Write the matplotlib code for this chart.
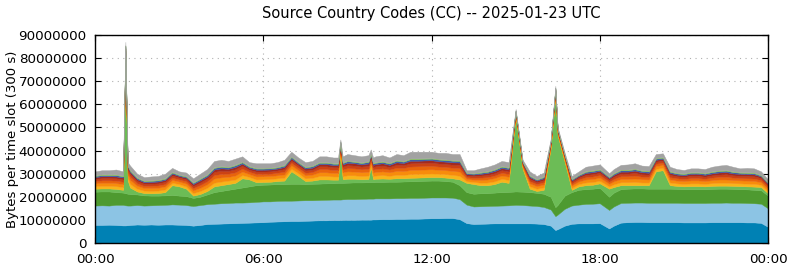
import matplotlib
matplotlib.use("Agg")
import matplotlib.pyplot as plt
from matplotlib.ticker import FuncFormatter
import numpy as np

# time of each sample (minutes after 00:00 UTC)
minutes = [0, 15, 30, 45, 60, 65, 70, 75, 90, 105,
           120, 135, 150, 165, 180, 195, 210, 225, 240, 255,
           270, 285, 300, 315, 330, 345, 360, 375, 390, 405,
           420, 435, 450, 465, 480, 495, 510, 520, 525, 530,
           540, 555, 570, 585, 590, 595, 600, 615, 630, 645,
           660, 675, 690, 705, 720, 735, 750, 765, 780, 795,
           810, 825, 840, 855, 870, 885, 900, 915, 930, 945,
           960, 975, 985, 990, 1005, 1020, 1035, 1050, 1065, 1080,
           1100, 1110, 1125, 1140, 1155, 1170, 1185, 1200, 1215, 1230,
           1245, 1260, 1275, 1290, 1305, 1320, 1335, 1350, 1365, 1380,
           1395, 1410, 1425, 1440]

# layer values in millions of bytes per 300 s slot (bottom to top)
cc1 = [7.8, 7.8, 7.9, 7.8, 7.6, 7.6, 7.7, 7.8, 8.0, 7.9,
       8.0, 7.9, 8.0, 8.0, 7.9, 7.8, 7.5, 7.8, 8.2, 8.3,
       8.4, 8.5, 8.6, 8.7, 8.8, 8.9, 9.0, 9.2, 9.3, 9.4,
       9.5, 9.5, 9.6, 9.7, 9.8, 9.8, 9.9, 9.9, 9.9, 10.0,
       10.0, 10.0, 10.1, 10.1, 10.1, 10.2, 10.2, 10.3, 10.3, 10.4,
       10.4, 10.5, 10.5, 10.6, 10.7, 10.7, 10.8, 10.8, 10.3, 8.6,
       8.2, 8.3, 8.4, 8.5, 8.5, 8.5, 8.5, 8.5, 8.5, 8.4,
       8.2, 7.5, 5.6, 6.0, 7.5, 8.3, 8.5, 8.5, 8.5, 8.6,
       6.3, 7.5, 8.8, 9.0, 9.1, 9.1, 9.0, 9.0, 9.0, 9.0,
       9.0, 8.9, 8.9, 8.9, 8.9, 9.0, 9.0, 9.0, 9.0, 9.0,
       8.9, 8.9, 8.7, 7.0]
cc2 = [8.4, 8.5, 8.3, 8.7, 8.9, 8.7, 8.5, 8.4, 8.4, 8.3,
       8.3, 8.5, 8.5, 8.7, 8.7, 8.6, 8.5, 8.6, 8.6, 8.7,
       8.8, 8.8, 8.9, 8.8, 8.8, 8.9, 9.0, 8.8, 8.9, 8.9,
       8.8, 8.9, 8.9, 8.8, 8.8, 8.9, 8.9, 8.9, 8.9, 8.9,
       9.0, 9.0, 9.0, 9.1, 9.1, 9.0, 9.1, 9.0, 9.0, 9.0,
       9.0, 9.0, 9.0, 9.0, 9.0, 9.0, 8.9, 8.8, 8.7, 8.0,
       7.6, 7.6, 7.6, 7.6, 7.7, 7.8, 8.0, 7.9, 7.7, 7.6,
       7.4, 7.0, 6.0, 6.3, 7.3, 7.9, 8.1, 8.4, 8.5, 8.6,
       8.0, 8.3, 8.5, 8.4, 8.4, 8.4, 8.4, 8.4, 8.4, 8.4,
       8.4, 8.4, 8.4, 8.4, 8.4, 8.4, 8.4, 8.5, 8.4, 8.4,
       8.4, 8.3, 8.3, 8.0]
cc3 = [6.0, 6.0, 6.1, 5.5, 5.3, 5.3, 5.1, 5.0, 4.6, 4.4,
       4.2, 4.1, 4.1, 4.1, 3.9, 3.9, 3.5, 3.6, 4.2, 5.0,
       5.3, 5.7, 6.0, 6.5, 6.9, 7.2, 7.2, 7.3, 7.3, 7.2,
       7.3, 7.2, 7.0, 7.1, 7.1, 7.1, 7.1, 7.2, 7.2, 7.1,
       7.1, 7.2, 7.1, 7.1, 7.1, 7.1, 7.1, 7.1, 7.2, 7.1,
       7.2, 7.2, 7.3, 7.3, 7.3, 7.3, 7.1, 6.9, 6.0, 5.4,
       5.5, 5.6, 5.6, 5.7, 5.8, 5.8, 5.8, 5.8, 5.8, 5.7,
       5.7, 5.5, 3.9, 4.2, 5.7, 5.8, 6.4, 6.4, 6.5, 6.6,
       5.7, 6.0, 6.0, 6.1, 6.1, 6.1, 6.1, 6.1, 6.1, 6.1,
       6.0, 6.0, 6.0, 6.0, 6.0, 6.0, 6.1, 6.0, 6.0, 5.9,
       5.9, 5.8, 5.8, 5.5]
cc4 = [1.3, 1.3, 1.3, 1.4, 1.2, 58.4, 5.7, 2.8, 1.3, 1.0,
       1.0, 1.1, 1.4, 4.2, 4.0, 3.2, 1.0, 1.2, 1.5, 2.5,
       2.5, 2.5, 2.5, 4.0, 3.0, 1.3, 1.2, 1.2, 1.3, 1.5,
       5.4, 3.4, 1.3, 1.4, 1.8, 1.7, 1.5, 1.4, 14.0, 1.6,
       1.7, 1.6, 1.4, 1.4, 6.7, 1.3, 1.4, 1.5, 1.3, 1.5,
       1.4, 1.5, 1.5, 1.5, 1.5, 1.5, 1.5, 1.5, 2.5, 4.0,
       4.2, 3.5, 3.4, 3.7, 4.5, 3.9, 32.7, 9.8, 1.5, 0.8,
       1.7, 21.0, 48.5, 30.0, 14.5, 1.0, 1.5, 1.7, 1.7, 2.0,
       3.5, 2.4, 1.7, 1.5, 1.4, 1.4, 1.5, 7.5, 8.0, 1.5,
       1.3, 1.2, 1.3, 1.3, 1.2, 1.3, 1.3, 1.3, 1.3, 1.3,
       1.3, 1.4, 1.4, 1.0]
cc5 = [1.1, 1.2, 1.2, 1.2, 1.2, 1.0, 1.4, 1.6, 1.2, 1.1,
       1.1, 1.1, 1.2, 1.1, 1.0, 1.0, 1.1, 1.3, 1.4, 1.6,
       1.6, 1.5, 1.5, 1.4, 1.1, 1.2, 1.2, 1.2, 1.2, 1.3,
       1.2, 1.2, 1.2, 1.2, 1.5, 1.5, 1.4, 1.4, 0.7, 1.4,
       1.5, 1.5, 1.4, 1.5, 1.1, 1.4, 1.4, 1.5, 1.3, 1.5,
       1.5, 1.6, 1.6, 1.6, 1.6, 1.5, 1.5, 1.5, 1.6, 0.8,
       0.9, 1.1, 1.2, 1.2, 1.3, 1.3, 0.4, 0.6, 1.1, 1.0,
       1.1, 0.6, 0.6, 0.5, 0.6, 0.9, 1.0, 1.2, 1.2, 1.2,
       1.0, 1.2, 1.3, 1.3, 1.4, 1.2, 1.2, 1.1, 1.1, 1.2,
       1.1, 1.1, 1.2, 1.2, 1.1, 1.2, 1.3, 1.3, 1.2, 1.2,
       1.2, 1.2, 1.0, 0.9]
cc6 = [1.2, 1.3, 1.3, 1.3, 1.3, 1.2, 1.5, 1.7, 1.3, 1.1,
       1.2, 1.2, 1.3, 1.2, 1.1, 1.2, 1.2, 1.4, 1.5, 1.8,
       1.8, 1.6, 1.7, 1.5, 1.2, 1.3, 1.3, 1.3, 1.3, 1.4,
       1.4, 1.3, 1.3, 1.4, 1.6, 1.6, 1.5, 1.5, 0.8, 1.6,
       1.7, 1.6, 1.6, 1.6, 1.2, 1.5, 1.5, 1.6, 1.5, 1.7,
       1.6, 1.8, 1.8, 1.8, 1.8, 1.7, 1.7, 1.7, 1.8, 0.9,
       1.0, 1.2, 1.3, 1.4, 1.4, 1.4, 0.5, 0.7, 1.2, 1.1,
       1.2, 0.7, 0.7, 0.6, 0.7, 1.0, 1.1, 1.3, 1.3, 1.3,
       1.1, 1.3, 1.4, 1.4, 1.5, 1.4, 1.3, 1.2, 1.2, 1.3,
       1.2, 1.2, 1.3, 1.3, 1.2, 1.3, 1.4, 1.4, 1.3, 1.3,
       1.3, 1.3, 1.1, 1.0]
cc7 = [1.0, 1.0, 1.0, 1.1, 1.0, 1.0, 1.2, 1.4, 1.0, 0.9,
       1.0, 1.0, 1.0, 1.0, 0.9, 1.0, 1.0, 1.2, 1.3, 1.5,
       1.5, 1.4, 1.4, 1.3, 1.0, 1.1, 1.0, 1.0, 1.1, 1.2,
       1.1, 1.0, 1.1, 1.1, 1.4, 1.4, 1.3, 1.3, 0.7, 1.3,
       1.4, 1.4, 1.3, 1.4, 1.0, 1.3, 1.3, 1.3, 1.2, 1.4,
       1.4, 1.5, 1.5, 1.5, 1.5, 1.4, 1.4, 1.4, 1.5, 0.8,
       0.8, 1.0, 1.0, 1.1, 1.2, 1.2, 0.4, 0.5, 1.0, 0.9,
       1.0, 0.5, 0.5, 0.5, 0.5, 0.8, 0.9, 1.0, 1.1, 1.1,
       0.9, 1.0, 1.2, 1.2, 1.3, 1.1, 1.1, 1.0, 1.0, 1.0,
       1.0, 0.9, 1.0, 1.0, 1.0, 1.1, 1.1, 1.2, 1.1, 1.0,
       1.0, 1.0, 0.9, 0.8]
cc8 = [0.9, 1.0, 1.0, 1.0, 1.0, 1.0, 1.0, 1.2, 1.0, 0.9,
       0.9, 0.9, 1.0, 0.9, 0.8, 0.9, 0.9, 1.1, 1.2, 1.4,
       1.4, 1.2, 1.3, 1.2, 0.9, 1.0, 1.0, 1.0, 1.0, 1.1,
       1.0, 1.0, 1.0, 1.0, 1.2, 1.2, 1.2, 1.2, 0.6, 1.2,
       1.3, 1.2, 1.2, 1.2, 0.9, 1.1, 1.2, 1.2, 1.1, 1.3,
       1.2, 1.4, 1.4, 1.4, 1.4, 1.3, 1.3, 1.3, 1.4, 0.7,
       0.8, 0.9, 1.0, 1.0, 1.1, 1.1, 0.4, 0.5, 0.9, 0.8,
       0.9, 0.5, 0.5, 0.4, 0.5, 0.8, 0.8, 1.0, 1.0, 1.0,
       0.9, 1.0, 1.1, 1.1, 1.2, 1.0, 1.0, 0.9, 0.9, 1.0,
       0.9, 0.9, 1.0, 1.0, 0.9, 1.0, 1.0, 1.1, 1.0, 1.0,
       1.0, 1.0, 0.9, 0.8]
cc9 = [0.8, 0.8, 0.8, 0.8, 0.8, 0.7, 0.7, 0.8, 0.8, 0.7,
       0.7, 0.8, 0.8, 0.8, 0.7, 0.7, 0.8, 0.9, 0.9, 1.0,
       1.0, 0.9, 1.0, 0.9, 0.8, 0.8, 0.8, 0.8, 0.8, 0.9,
       0.9, 0.8, 0.8, 0.9, 0.9, 0.9, 0.9, 0.9, 0.5, 0.9,
       1.0, 1.0, 0.9, 1.0, 0.8, 0.9, 0.9, 1.0, 0.9, 1.0,
       0.9, 1.1, 1.0, 1.0, 1.0, 1.0, 1.0, 1.0, 1.0, 0.6,
       0.6, 0.7, 0.8, 0.9, 0.9, 0.9, 0.3, 0.4, 0.8, 0.7,
       0.8, 0.4, 0.4, 0.4, 0.4, 0.6, 0.7, 0.8, 0.8, 0.8,
       0.7, 0.8, 0.9, 0.9, 0.9, 0.9, 0.8, 0.8, 0.7, 0.8,
       0.7, 0.7, 0.8, 0.8, 0.8, 0.8, 0.9, 0.9, 0.8, 0.8,
       0.8, 0.8, 0.7, 0.6]
cc10 = [0.5, 0.5, 0.5, 0.6, 0.5, 0.4, 0.5, 0.5, 0.5, 0.5,
        0.5, 0.5, 0.5, 0.5, 0.4, 0.4, 0.5, 0.6, 0.6, 0.7,
        0.7, 0.6, 0.7, 0.6, 0.5, 0.5, 0.5, 0.5, 0.5, 0.6,
        0.6, 0.5, 0.5, 0.6, 0.6, 0.6, 0.6, 0.6, 0.3, 0.6,
        0.7, 0.6, 0.6, 0.7, 0.5, 0.6, 0.6, 0.6, 0.6, 0.7,
        0.6, 0.7, 0.7, 0.7, 0.7, 0.7, 0.7, 0.7, 0.7, 0.4,
        0.4, 0.5, 0.5, 0.6, 0.6, 0.6, 0.2, 0.3, 0.5, 0.4,
        0.5, 0.3, 0.3, 0.2, 0.3, 0.4, 0.4, 0.5, 0.6, 0.5,
        0.4, 0.5, 0.6, 0.6, 0.6, 0.6, 0.6, 0.5, 0.5, 0.5,
        0.5, 0.5, 0.5, 0.5, 0.5, 0.6, 0.6, 0.6, 0.6, 0.5,
        0.5, 0.5, 0.4, 0.4]
cc11 = [0.3, 0.3, 0.3, 0.3, 0.3, 0.2, 0.2, 0.3, 0.3, 0.2,
        0.3, 0.3, 0.3, 0.3, 0.2, 0.3, 0.3, 0.3, 0.3, 0.3,
        0.3, 0.3, 0.3, 0.3, 0.3, 0.3, 0.3, 0.3, 0.3, 0.3,
        0.3, 0.3, 0.3, 0.3, 0.3, 0.3, 0.3, 0.3, 0.2, 0.3,
        0.3, 0.3, 0.3, 0.3, 0.3, 0.3, 0.3, 0.3, 0.3, 0.3,
        0.3, 0.3, 0.3, 0.3, 0.3, 0.3, 0.3, 0.3, 0.3, 0.2,
        0.2, 0.3, 0.3, 0.3, 0.3, 0.3, 0.1, 0.1, 0.3, 0.2,
        0.3, 0.1, 0.1, 0.1, 0.1, 0.2, 0.2, 0.3, 0.3, 0.3,
        0.2, 0.3, 0.3, 0.3, 0.3, 0.3, 0.3, 0.3, 0.3, 0.3,
        0.3, 0.3, 0.3, 0.3, 0.3, 0.3, 0.3, 0.3, 0.3, 0.3,
        0.3, 0.3, 0.2, 0.2]
cc12 = [1.7, 1.8, 1.8, 2.1, 1.9, 1.5, 1.5, 2.0, 1.6, 1.5,
        1.6, 1.6, 1.9, 1.7, 1.4, 1.5, 1.7, 2.0, 2.3, 2.7,
        2.7, 2.5, 2.6, 2.3, 1.7, 2.0, 2.0, 1.9, 2.0, 2.2,
        2.0, 1.9, 2.0, 2.0, 2.5, 2.5, 2.4, 2.4, 1.0, 2.6,
        2.8, 2.6, 2.6, 2.6, 1.7, 2.3, 2.5, 2.6, 2.3, 2.6,
        2.5, 2.9, 2.9, 2.8, 2.7, 2.6, 2.8, 2.6, 2.7, 1.1,
        1.3, 1.6, 1.9, 2.0, 2.2, 2.2, 0.7, 0.9, 1.7, 1.4,
        1.7, 0.9, 0.9, 0.8, 0.9, 1.3, 1.4, 1.9, 2.0, 2.0,
        1.5, 1.7, 2.0, 2.2, 2.3, 2.0, 2.0, 1.7, 1.6, 1.9,
        1.6, 1.5, 1.6, 1.6, 1.7, 2.0, 2.1, 2.2, 2.0, 1.6,
        1.9, 1.8, 1.6, 1.3]

layers = [cc1, cc2, cc3, cc4, cc5, cc6, cc7, cc8, cc9, cc10, cc11, cc12]
colors = ["#0081b4", "#8cc4e4", "#4e9a30", "#6cbc56", "#f8b41a", "#f78c0c",
          "#e8640c", "#cc4214", "#a52a1e", "#3c5caa", "#8cc850", "#a2a2a2"]

xtick_pos = [0, 6, 12, 18, 24]
xtick_lab = ["00:00", "06:00", "12:00", "18:00", "00:00"]
ytick_pos = [0, 10e6, 20e6, 30e6, 40e6, 50e6, 60e6, 70e6, 80e6, 90e6]

hours = np.array(minutes) / 60.0
data = [np.array(l) * 1e6 for l in layers]

fig = plt.figure(figsize=(7.9, 2.67), dpi=100)
ax = fig.add_axes([95 / 790, 1 - 243 / 267, (768 - 95) / 790, (243 - 35) / 267])
ax.set_axisbelow(True)
ax.grid(True, linestyle=(0, (1, 4)), color="#b0b0b0", linewidth=0.8)
ax.stackplot(hours, *data, colors=colors, linewidth=0.3, edgecolor="face")

ax.set_xlim(0, 24)
ax.set_ylim(0, 90e6)
ax.set_xticks(xtick_pos)
ax.set_xticklabels(xtick_lab)
ax.set_yticks(ytick_pos)
ax.yaxis.set_major_formatter(FuncFormatter(lambda v, p: "%d" % int(round(v))))
ax.tick_params(direction="in", top=True, right=True, length=4, labelsize=9.7)
ax.tick_params(axis="x", pad=7)
ax.tick_params(axis="y", pad=6)
for s in ax.spines.values():
    s.set_linewidth(1.0)
ax.set_ylabel("Bytes per time slot (300 s)", fontsize=9.5)
ax.yaxis.set_label_coords(-0.113, 0.5)
ax.set_title("Source Country Codes (CC) -- 2025-01-23 UTC", fontsize=10.5, pad=12)

fig.savefig("out.png", dpi=100)
